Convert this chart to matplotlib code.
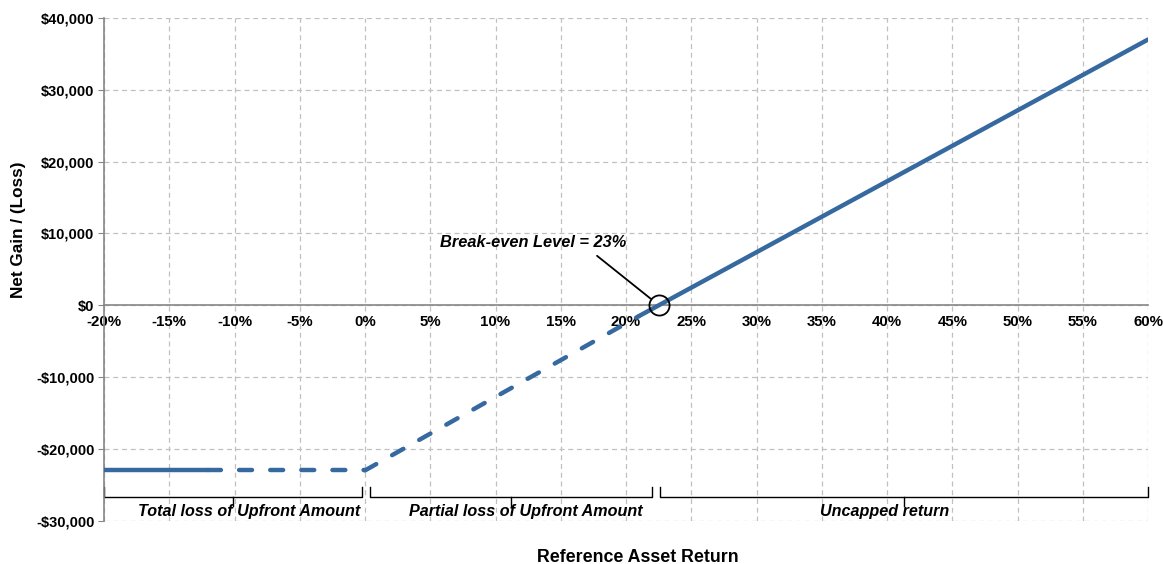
import matplotlib
matplotlib.use("Agg")
import matplotlib.pyplot as plt
from matplotlib.ticker import FuncFormatter, MultipleLocator

plt.rcParams['font.family'] = ['Liberation Sans', 'DejaVu Sans']

# payoff curve (return in %, net gain in $)
returns = [-20, -12, 0, 21, 60]
net_gain = [-23000, -23000, -23000, -1500, 37000]
segment_style = ['-', '--', '--', '-']

breakeven_return = 22.5
breakeven_label = "Break-even Level = 23%"

region_bounds = [(-20, -0.2), (0.4, 22.0), (22.6, 60)]
region_labels = ["Total loss of Upfront Amount", "Partial loss of Upfront Amount", "Uncapped return"]
region_label_x = [-8.9, 12.3, 39.8]

line_color = '#36699F'
grid_color = '#C0C0C0'
axis_color = '#868686'

fig = plt.figure(figsize=(11.63, 5.64), dpi=100)
ax = fig.add_axes([104 / 1163, 1 - 520.7 / 564, (1148 - 104) / 1163, (520.7 - 18) / 564])

for i, style in enumerate(segment_style):
    ln, = ax.plot(returns[i:i + 2], net_gain[i:i + 2], color=line_color, lw=3.2,
                  solid_capstyle='round', dash_capstyle='round', zorder=3)
    if style == '--':
        ln.set_dashes((2.9, 4.1))

ax.set_xlim(-20, 60)
ax.set_ylim(-30000, 40000)
ax.xaxis.set_major_locator(MultipleLocator(5))
ax.yaxis.set_major_locator(MultipleLocator(10000))
ax.xaxis.set_major_formatter(FuncFormatter(lambda v, p: f"{v:.0f}%"))
ax.yaxis.set_major_formatter(FuncFormatter(
    lambda v, p: ("-" if v < 0 else "") + f"${abs(v):,.0f}"))

ax.grid(True, color=grid_color, lw=0.9, linestyle=(0, (4, 3)))
ax.set_axisbelow(True)
for s in ['top', 'right']:
    ax.spines[s].set_visible(False)
ax.spines['bottom'].set_position(('data', 0))
ax.spines['bottom'].set_color(axis_color)
ax.spines['left'].set_color(axis_color)
ax.spines['bottom'].set_linewidth(1.2)
ax.spines['left'].set_linewidth(1.2)
ax.tick_params(axis='x', length=0, pad=7, labelsize=10.8)
ax.tick_params(axis='y', length=4, color=axis_color, direction='out', pad=3, labelsize=10.5)
for lab in ax.get_xticklabels() + ax.get_yticklabels():
    lab.set_fontweight('bold')

fig.text(19 / 1163, 1 - 230 / 564, "Net Gain / (Loss)", rotation=90, ha='center', va='center',
         fontsize=12.3, fontweight='bold')
fig.text(638 / 1163, 1 - 557 / 564, "Reference Asset Return", ha='center', va='center',
         fontsize=12.8, fontweight='bold')

# brackets under the curve
for (x0, x1), lab, lx in zip(region_bounds, region_labels, region_label_x):
    xm = (x0 + x1) / 2
    ax.plot([x0, x0, x1, x1], [-25300, -26700, -26700, -25300], color='black', lw=1.0,
            solid_joinstyle='round', clip_on=False)
    ax.plot([xm, xm], [-26700, -27900], color='black', lw=1.0)
    ax.text(lx, -28700, lab, ha='center', va='center', fontsize=11.6,
            fontweight='bold', fontstyle='italic')

# break-even marker
ax.plot([breakeven_return], [0], marker='o', ms=14.5, mfc='none', mec='black', mew=1.3, zorder=4)
ax.annotate(breakeven_label, xy=(breakeven_return - 0.6, 900), xytext=(12.9, 8800),
            ha='center', va='center', fontsize=11.8, fontweight='bold', fontstyle='italic',
            arrowprops=dict(arrowstyle='-', color='black', lw=1.3, shrinkA=4, shrinkB=0,
                            relpos=(0.8, 0)))

fig.savefig("out.png", dpi=100)
